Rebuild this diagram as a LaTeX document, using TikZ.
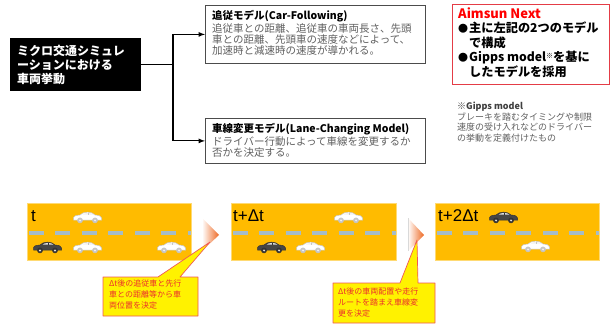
\documentclass[tikz,border=0pt]{standalone}
\usepackage{fontspec}
\usepackage{tikz}
\usetikzlibrary{positioning,arrows}
\newfontfamily\jp{Noto Sans CJK JP}
\newfontfamily\arl{Liberation Sans}
\definecolor{lane}{RGB}{255,187,0}
\definecolor{dashc}{RGB}{166,188,198}
\definecolor{txtg}{RGB}{95,95,95}
\definecolor{aimred}{RGB}{228,60,70}
\definecolor{callred}{RGB}{235,45,45}
\definecolor{chev}{RGB}{238,105,35}
% car: position, body colour, outline colour, glass colour
\newcommand{\car}[4]{%
  \begin{scope}[shift={#1}]
    \filldraw[fill=#2,draw=#3,line width=0.5pt] (0.5,-3) -- (0.5,-5.5)
      .. controls (0.5,-7) and (3,-7.6) .. (7,-8)
      .. controls (10,-11.8) and (19,-11.8) .. (22,-8)
      .. controls (26,-7.6) and (28.5,-7) .. (28.5,-5) -- (28.5,-3) -- cycle;
    \fill[#4] (9.8,-8.4) .. controls (11.5,-10.6) and (18.5,-10.6) .. (20.4,-8.4) -- cycle;
    \draw[#3,line width=0.4pt] (15.3,-8.4) -- (15.3,-10.3);
    \filldraw[fill=#3,draw=#3] (7,-2.6) circle[radius=2.6pt] (22,-2.6) circle[radius=2.6pt];
    \fill[#4] (7,-2.6) circle[radius=1.1pt] (22,-2.6) circle[radius=1.1pt];
  \end{scope}}

\begin{document}
\begin{tikzpicture}[x=1pt,y=-1pt]
\tikzstyle{mainbox}=[rectangle, fill=black, text=white, font=\jp\bfseries\fontsize{12}{14}\selectfont, text width=117pt, align=left, inner sep=7pt, minimum height=51pt]
\tikzstyle{modelbox}=[rectangle, draw=black!70, line width=0.8pt, inner sep=0pt]
\tikzstyle{boxtext}=[text=txtg, font=\jp\fontsize{10.5}{11}\selectfont, align=left, inner sep=0pt, anchor=north west]
\tikzstyle{aimbox}=[rectangle, draw=aimred, line width=1.3pt, fill=white, inner sep=0pt]
\tikzstyle{notetext}=[text=txtg, font=\jp\fontsize{9}{10.5}\selectfont, align=left, inner sep=0pt, anchor=north west]
\tikzstyle{lanebox}=[rectangle, fill=lane, draw=lane!55!white, line width=0.4pt, minimum height=57pt, inner sep=0pt]
\tikzstyle{dashln}=[dashc, line width=3.5pt, dash pattern=on 15pt off 11.5pt]
\tikzstyle{tlabel}=[font=\arl\fontsize{17}{17}\selectfont, inner sep=0pt, anchor=west]
\tikzstyle{callout}=[fill=yellow, draw=callred!80, line width=0.7pt, line join=round]
\tikzstyle{calltext}=[text=callred, font=\jp\fontsize{8}{11}\selectfont, align=left, inner sep=0pt, anchor=north west]
\tikzstyle{conn}=[line width=1.2pt]
\tikzstyle{connect}=[-latex, line width=1.2pt]

\useasboundingbox (0,0) rectangle (614,329);

%% upper half: the two models
	\node[mainbox] (mic) at (75.5,64.5) {ミクロ交通シミュレ\\ーションにおける\\車両挙動};
	\coordinate (split) at (173,64.5);

	\node[modelbox, minimum width=220pt, minimum height=58pt, anchor=north west] (cf) at (205,5) {};
	\node[boxtext] (cft) at (212,10) {{\color{black}\bfseries 追従モデル(Car-Following)}\\[1pt]
		追従車との距離、追従車の車両長さ、先頭\\
		車との距離、先頭車の速度などによって、\\
		加速時と減速時の速度が導かれる。};

	\node[modelbox, minimum width=220pt, minimum height=45pt, anchor=north west] (lc) at (205,118) {};
	\node[boxtext] (lct) at (212,123) {{\color{black}\bfseries 車線変更モデル(Lane-Changing Model)}\\[1pt]
		ドライバー行動によって車線を変更するか\\
		否かを決定する。};

	\draw[conn] (mic.east) -- (split);
	\draw[connect] (split) |- (cf.west);
	\draw[connect] (split) |- (lc.west);

	\node[aimbox, minimum width=157pt, minimum height=80pt, anchor=north west] (aim) at (452,4) {};
	\node[anchor=north west, inner sep=0pt, align=left, font=\jp\bfseries\fontsize{12.2}{14.5}\selectfont] (aimt) at (458,7)
		{{\color{red}\fontsize{13}{14.5}\selectfont Aimsun Next}\\
		\makebox[11pt][l]{\fontsize{10}{10}\selectfont ●}主に左記の2つのモデル\\
		\hspace*{11pt}で構成\\
		\makebox[11pt][l]{\fontsize{10}{10}\selectfont ●}Gipps model\raisebox{3pt}{\fontsize{7}{7}\selectfont ※}を基に\\
		\hspace*{11pt}したモデルを採用};

	\node[notetext] (gipps) at (457,102) {{\color{black!75}\bfseries ※Gipps model}\\
		ブレーキを踏むタイミングや制限\\
		速度の受け入れなどのドライバー\\
		の挙動を定義付けたもの};

%% lower half: lanes at t, t+dt, t+2dt
	\node[lanebox, minimum width=164pt] (p1) at (109,231.5) {};
	\node[lanebox, minimum width=165pt] (p2) at (313.5,231.5) {};
	\node[lanebox, minimum width=164pt] (p3) at (517,231.5) {};

	\draw[dashln] ([xshift=2pt,yshift=-1.5pt]p1.west) -- ([yshift=-1.5pt]p1.east);
	\draw[dashln] ([xshift=2pt,yshift=-1.5pt]p2.west) -- ([yshift=-1.5pt]p2.east);
	\draw[dashln] ([xshift=2pt,yshift=-1.5pt]p3.west) -- ([yshift=-1.5pt]p3.east);

	\node[tlabel] (t1) at (31,216) {t};
	\node[tlabel] (t2) at (233,216) {t+Δt};
	\node[tlabel] (t3) at (438,216) {t+2Δt};

	% cars (white = other vehicles, dark = subject vehicle)
	\car{(73,223)}{white}{gray!45}{gray!12}
	\car{(33,253)}{gray!55!black}{black!80}{gray!25}
	\car{(73,253)}{white}{gray!45}{gray!12}
	\car{(157,253)}{white}{gray!45}{gray!12}

	\car{(334,223)}{white}{gray!45}{gray!12}
	\car{(257,253)}{gray!55!black}{black!80}{gray!25}
	\car{(296,253)}{white}{gray!45}{gray!12}

	\car{(489,223)}{gray!55!black}{black!80}{gray!25}
	\car{(521,252)}{white}{gray!45}{gray!12}

	% step arrows
	\shade[left color=white, right color=chev] (202,218) -- (219,235) -- (202,251) -- cycle;
	\shade[left color=white, right color=chev] (408,218) -- (424,235) -- (408,251) -- cycle;
	\draw[gray!30, line width=0.4pt] (408,218) -- (408,251);

	% callouts
	\coordinate (tip1) at (210,242);
	\coordinate (tip2) at (417,240);
	\draw[callout] (103,277) -- (158,277) -- (tip1) -- (180,277) -- (198,277) -- (198,316) -- (103,316) -- cycle;
	\node[calltext] (c1) at (109,280) {Δt後の追従車と先行\\車との距離等から車\\両位置を決定};

	\draw[callout] (333,283) -- (400,283) -- (tip2) -- (418,283) -- (435,283) -- (435,323) -- (333,323) -- cycle;
	\node[calltext] (c2) at (338,288) {Δt後の車両配置や走行\\ルートを踏まえ車線変\\更を決定};

\end{tikzpicture}
\end{document}
